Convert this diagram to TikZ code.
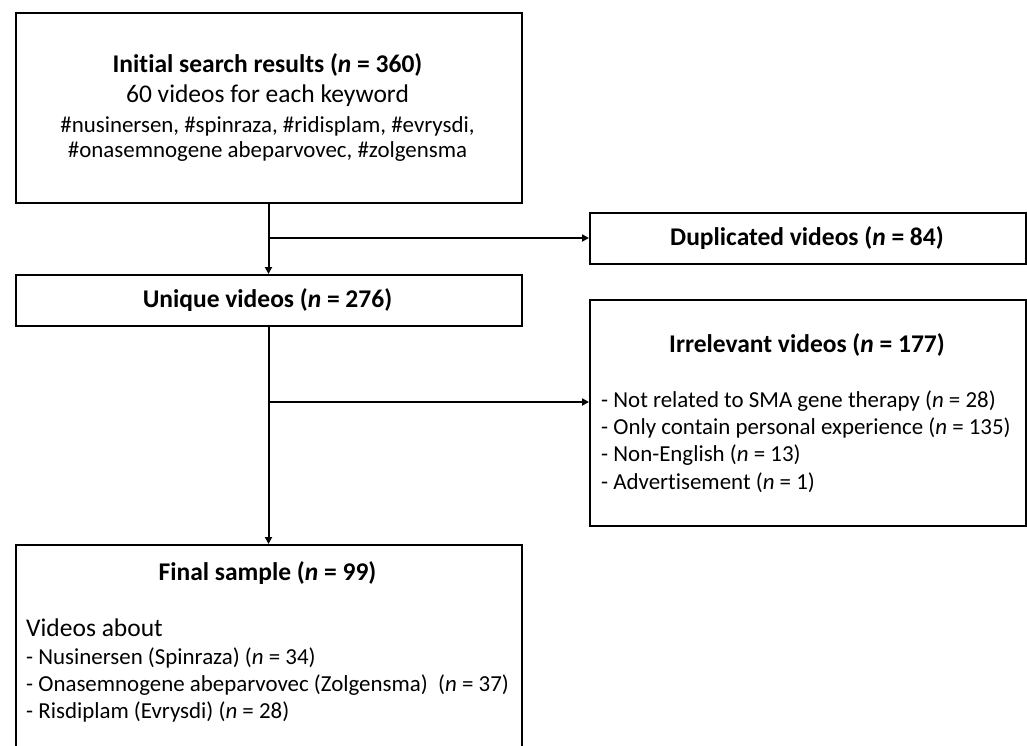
\documentclass[tikz,border=0pt]{standalone}
\usepackage{fontspec}
\setmainfont{Carlito}[Ligatures=NoCommon]
\usetikzlibrary{arrows.meta}
\tikzset{
  box/.style={draw=black, line width=2pt, inner sep=0pt, anchor=north west},
  ttl/.style={font=\fontsize{25.5}{30}\selectfont\bfseries, inner sep=0pt},
  big/.style={font=\fontsize{25.5}{30}\selectfont, inner sep=0pt},
  sml/.style={font=\fontsize{22.9}{27}\selectfont, inner sep=0pt},
  lst/.style={font=\fontsize{22.9}{27}\selectfont, inner sep=0pt, anchor=west},
  arr/.style={line width=2pt, -{Triangle[length=7pt,width=7pt]}},
}
\begin{document}
\begin{tikzpicture}[x=1pt,y=-1pt]
\useasboundingbox (0,0) rectangle (1027,745);
\clip (0,0) rectangle (1027,745);
% boxes
\node[box, minimum width=506pt, minimum height=189.5pt] (b1) at (14.5,12) {};
\node[box, minimum width=436pt, minimum height=51pt] (dup) at (589,212) {};
\node[box, minimum width=506pt, minimum height=51pt] (uniq) at (14.5,274) {};
\node[box, minimum width=436pt, minimum height=226pt] (irr) at (589,299) {};
\node[box, minimum width=506pt, minimum height=240pt] (fin) at (14.5,544) {};
% texts box 1
\node[ttl] (t1) at (267.5,65) {Initial search results (\textit{n} = 360)};
\node[big] (t2) at (267.5,96) {60 videos for each keyword};
\node[sml] (t3) at (267.5,126) {\#nusinersen, \#spinraza, \#ridisplam, \#evrysdi,};
\node[sml] (t4) at (267.5,152) {\#onasemnogene abeparvovec, \#zolgensma};
% other titles
\node[ttl] (tdup) at (807,238) {Duplicated videos (\textit{n} = 84)};
\node[ttl] (tuniq) at (267.5,300) {Unique videos (\textit{n} = 276)};
\node[ttl] (tirr) at (807,345) {Irrelevant videos (\textit{n} = 177)};
\node[lst] (i1) at (601,401) {- Not related to SMA gene therapy (\textit{n} = 28)};
\node[lst] (i2) at (601,428) {- Only contain personal experience (\textit{n} = 135)};
\node[lst] (i3) at (601,455) {- Non-English (\textit{n} = 13)};
\node[lst] (i4) at (601,483) {- Advertisement (\textit{n} = 1)};
\node[ttl] (tfin) at (267.5,573) {Final sample (\textit{n} = 99)};
\node[big, anchor=west] (vab) at (26,628) {Videos about};
\node[lst] (f1) at (26,658) {- Nusinersen (Spinraza) (\textit{n} = 34)};
\node[lst] (f2) at (26,685) {- Onasemnogene abeparvovec (Zolgensma)~~(\textit{n} = 37)};
\node[lst] (f3) at (26,712) {- Risdiplam (Evrysdi) (\textit{n} = 28)};
% connectors
\coordinate (j1) at (267.5,238);
\coordinate (j2) at (267.5,402);
\draw[arr] (b1.south) -- (uniq.north);
\draw[arr] (j1) -- (j1 -| dup.west);
\draw[arr] (uniq.south) -- (fin.north);
\draw[arr] (j2) -- (j2 -| irr.west);
\end{tikzpicture}
\end{document}
